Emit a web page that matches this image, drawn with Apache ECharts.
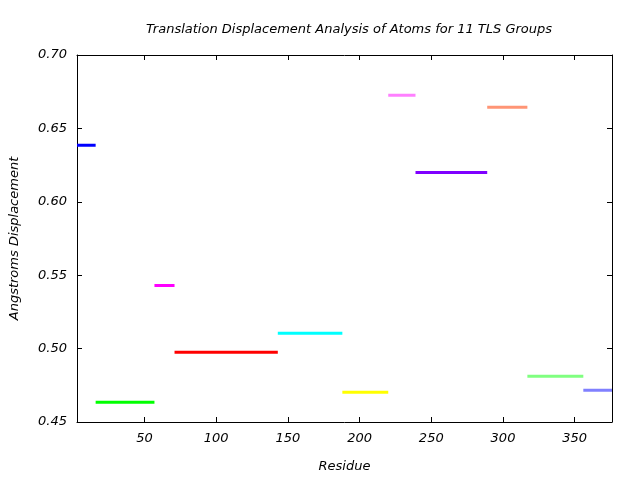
<!DOCTYPE html>
<html>
<head>
<meta charset="utf-8">
<script src="https://cdn.jsdelivr.net/npm/echarts@6/dist/echarts.min.js"></script>
<style>html,body{margin:0;padding:0;background:#fff}#c{width:640px;height:480px}</style>
</head>
<body>
<div id="c"></div>
<script>
const groupStart = [3, 16, 57, 71, 143, 188, 220, 239, 289, 317, 356];
const groupEnd   = [16, 57, 71, 143, 188, 220, 239, 289, 317, 356, 376];
const displacement = [0.6385, 0.4635, 0.5430, 0.4975, 0.5105, 0.4702, 0.6725, 0.6200, 0.6644, 0.4811, 0.4716];
const groupColors = ['#0000ff', '#00ff00', '#ff00ff', '#ff0000', '#00ffff', '#ffff00', '#ff80ff', '#7f00ff', '#ff9575', '#80ff80', '#8080ff'];
const xMin = 3, xMax = 376;
const yMin = 0.45, yMax = 0.70;

const font = 'DejaVu Sans';
const fs = 13;
const chart = echarts.init(document.getElementById('c'), null, {renderer: 'canvas'});
const series = displacement.map((v, i) => ({
  type: 'line',
  data: [[groupStart[i], v], [groupEnd[i], v]],
  symbol: 'none',
  lineStyle: {color: groupColors[i], width: 3},
  xAxisIndex: 0, yAxisIndex: 0,
  animation: false,
  silent: true
}));
const axisLine = {show: true, lineStyle: {color: '#000', width: 1}};
chart.setOption({
  animation: false,
  title: {
    text: 'Translation Displacement Analysis of Atoms for 11 TLS Groups',
    left: 344, top: 18, textAlign: 'center',
    textStyle: {fontFamily: font, fontStyle: 'italic', fontWeight: 'normal', fontSize: fs, color: '#000'}
  },
  grid: {left: 76, right: 28, top: 55, bottom: 58, containLabel: false},
  xAxis: [{
    type: 'value', min: xMin, max: xMax, splitNumber: 7, position: 'bottom',
    name: 'Residue', nameLocation: 'middle', nameGap: 38,
    nameTextStyle: {fontFamily: font, fontStyle: 'italic', fontSize: fs, color: '#000'},
    axisLine: axisLine,
    axisTick: {show: true, inside: true, length: 5, lineStyle: {color: '#000'}},
    axisLabel: {fontFamily: font, fontStyle: 'italic', fontSize: fs, color: '#000', margin: 10, showMinLabel: false, showMaxLabel: false,
      formatter: v => (v % 50 === 0 ? String(v) : '')},
    splitLine: {show: false}
  }, {
    type: 'value', min: xMin, max: xMax, splitNumber: 7, position: 'top',
    axisLine: axisLine,
    axisTick: {show: true, inside: true, length: 5, lineStyle: {color: '#000'}},
    axisLabel: {show: false}, splitLine: {show: false}
  }],
  yAxis: [{
    type: 'value', min: yMin, max: yMax, interval: 0.05, position: 'left',
    name: 'Angstroms Displacement', nameLocation: 'middle', nameGap: 56, nameRotate: 90,
    nameTextStyle: {fontFamily: font, fontStyle: 'italic', fontSize: fs, color: '#000'},
    axisLine: axisLine,
    axisTick: {show: true, inside: true, length: 5, lineStyle: {color: '#000'}},
    axisLabel: {fontFamily: font, fontStyle: 'italic', fontSize: fs, color: '#000', margin: 10,
      formatter: v => v.toFixed(2)},
    splitLine: {show: false}
  }, {
    type: 'value', min: yMin, max: yMax, interval: 0.05, position: 'right',
    axisLine: axisLine,
    axisTick: {show: true, inside: true, length: 5, lineStyle: {color: '#000'}},
    axisLabel: {show: false}, splitLine: {show: false}
  }],
  series: series
});
</script>
</body>
</html>
